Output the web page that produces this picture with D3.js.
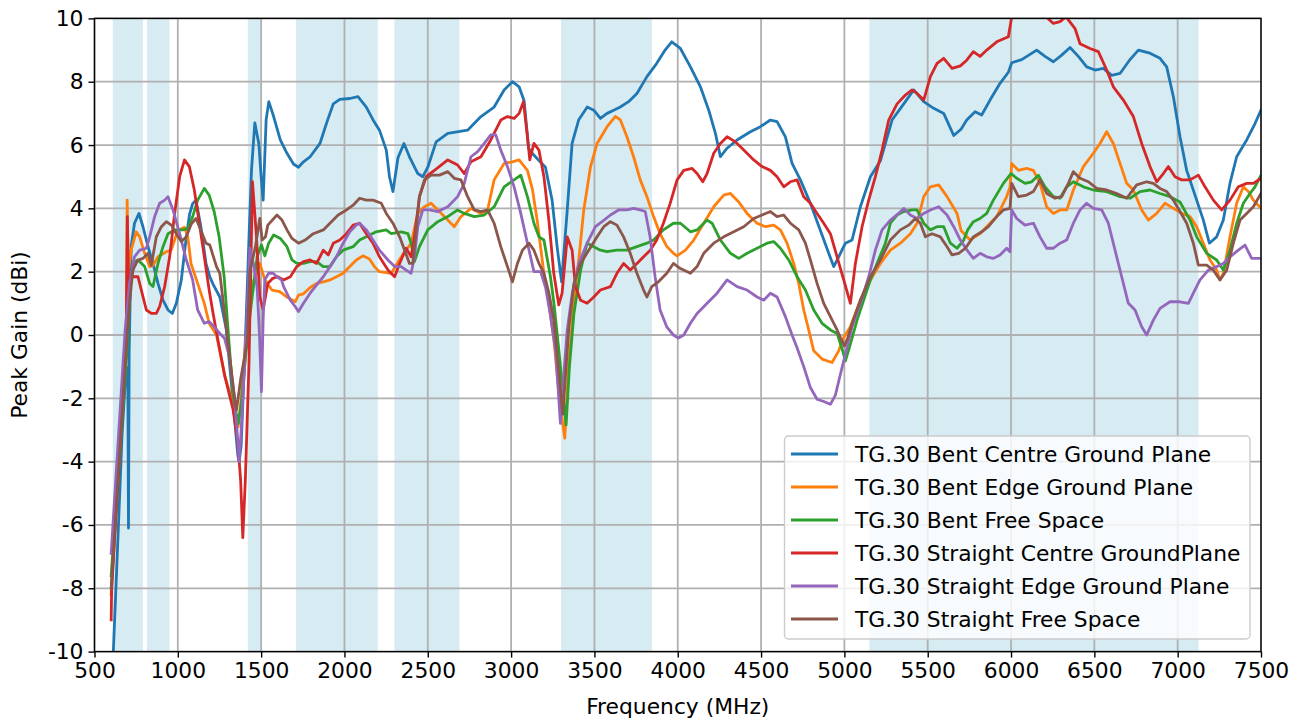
<!DOCTYPE html>
<html><head><meta charset="utf-8">
<script src="https://cdn.jsdelivr.net/npm/d3@7"></script>
<style>body{margin:0;background:#fff}svg{display:block}text{font-family:"DejaVu Sans",sans-serif}</style>
</head><body><svg id="c" width="1302" height="724"></svg>
<script>
const seriesNames = ["TG.30 Bent Centre Ground Plane","TG.30 Bent Edge Ground Plane","TG.30 Bent Free Space","TG.30 Straight Centre GroundPlane","TG.30 Straight Edge Ground Plane","TG.30 Straight Free Space"];
const seriesColors = ["#1f77b4","#ff7f0e","#2ca02c","#d62728","#9467bd","#8c564b"];
const xTicks = [500,1000,1500,2000,2500,3000,3500,4000,4500,5000,5500,6000,6500,7000,7500];
const yTicks = [-10,-8,-6,-4,-2,0,2,4,6,8,10];
const bands = [[610,790],[815,950],[1420,1505],[1710,2200],[2300,2690],[3300,3845],[5150,7125]];

const bentCentre = [[613,-10],[640,-6.5],[665,-3.2],[690,-1.0],[700,-1.4],[704,-6.1],[708,-0.5],[720,2.79],[740,3.53],[767,3.84],[791,3.42],[821,2.79],[851,2.26],[881,1.63],[911,1.1],[941,0.79],[967,0.68],[991,1.0],[1021,1.74],[1051,3.1],[1070,3.8],[1089,4.15],[1109,4.26],[1139,3.4],[1169,2.26],[1192,1.84],[1212,1.6],[1252,1.2],[1290,0.2],[1330,-2.0],[1360,-3.8],[1368,-4.0],[1380,-3.5],[1410,0.5],[1430,3.5],[1442,5.2],[1462,6.7],[1486,6.05],[1500,5.0],[1512,4.26],[1530,6.8],[1546,7.37],[1575,6.9],[1615,6.16],[1655,5.74],[1694,5.4],[1724,5.3],[1754,5.47],[1794,5.63],[1853,6.05],[1893,6.7],[1933,7.3],[1972,7.44],[2032,7.47],[2081,7.53],[2131,7.2],[2171,6.8],[2210,6.47],[2251,5.84],[2270,5.0],[2291,4.53],[2321,5.6],[2357,6.05],[2390,5.63],[2440,5.1],[2470,5.0],[2500,5.3],[2550,6.1],[2620,6.37],[2739,6.47],[2819,6.9],[2898,7.2],[2958,7.74],[3008,8.0],[3048,7.84],[3078,7.4],[3105,5.9],[3125,5.75],[3160,5.55],[3206,5.3],[3246,4.26],[3276,2.79],[3303,1.68],[3337,3.95],[3366,6.05],[3406,6.8],[3457,7.2],[3496,7.1],[3536,6.84],[3576,7.0],[3616,7.1],[3655,7.2],[3705,7.37],[3755,7.63],[3815,8.16],[3874,8.58],[3924,9.0],[3964,9.26],[4016,9.05],[4076,8.47],[4136,7.84],[4186,7.1],[4226,6.37],[4256,5.63],[4296,5.9],[4356,6.16],[4436,6.42],[4496,6.58],[4556,6.79],[4596,6.74],[4646,6.26],[4686,5.42],[4736,4.9],[4796,4.16],[4856,3.3],[4906,2.58],[4936,2.16],[4966,2.47],[5006,2.9],[5046,3.0],[5096,4.05],[5156,5.0],[5216,5.5],[5286,6.79],[5356,7.3],[5416,7.74],[5476,7.37],[5536,7.16],[5596,7.0],[5656,6.3],[5700,6.5],[5734,6.79],[5784,7.05],[5824,6.95],[5874,7.42],[5934,7.95],[5984,8.3],[6004,8.6],[6064,8.7],[6154,9.0],[6204,8.8],[6254,8.63],[6304,8.84],[6354,9.08],[6404,8.8],[6454,8.47],[6504,8.37],[6554,8.42],[6604,8.2],[6654,8.26],[6714,8.7],[6764,9.0],[6834,8.9],[6894,8.74],[6934,8.47],[6974,7.53],[7014,6.26],[7054,5.2],[7114,4.26],[7154,3.63],[7190,2.9],[7234,3.1],[7274,3.63],[7314,4.8],[7354,5.63],[7414,6.16],[7464,6.68],[7500,7.1]];

const bentEdge = [[600,-8.2],[690,-0.3],[696,4.26],[703,2.0],[720,2.68],[750,3.26],[771,3.1],[801,2.58],[831,2.16],[851,2.2],[881,2.47],[931,2.63],[960,2.68],[1000,3.3],[1040,3.4],[1060,3.1],[1079,2.26],[1119,1.63],[1159,1.0],[1188,0.37],[1232,0.0],[1282,-1.3],[1317,-1.9],[1332,-2.16],[1362,-2.9],[1380,-2.0],[1410,0.0],[1440,1.5],[1492,2.26],[1522,1.74],[1565,1.42],[1612,1.37],[1655,1.2],[1704,1.05],[1724,1.26],[1754,1.3],[1794,1.5],[1833,1.63],[1873,1.68],[1913,1.74],[1952,1.84],[1992,1.95],[2032,2.16],[2071,2.37],[2111,2.5],[2150,2.4],[2180,2.16],[2210,2.0],[2281,1.95],[2341,2.47],[2400,2.9],[2440,3.84],[2480,4.05],[2520,4.16],[2560,3.95],[2620,3.63],[2659,3.42],[2699,3.74],[2759,4.0],[2819,3.84],[2859,3.95],[2898,4.9],[2958,5.42],[3008,5.47],[3048,5.53],[3098,5.2],[3128,4.6],[3157,3.6],[3197,1.95],[3227,1.0],[3257,-0.16],[3290,-2.0],[3322,-3.26],[3345,-1.0],[3377,1.1],[3406,2.37],[3436,3.95],[3476,5.3],[3516,6.05],[3576,6.58],[3625,6.9],[3655,6.8],[3695,6.26],[3735,5.63],[3775,4.9],[3815,4.37],[3855,3.74],[3894,3.2],[3934,2.8],[3974,2.58],[3996,2.5],[4046,2.68],[4096,3.0],[4156,3.53],[4216,4.05],[4276,4.42],[4316,4.47],[4366,4.2],[4416,3.84],[4476,3.53],[4526,3.42],[4576,3.47],[4616,3.32],[4656,2.9],[4696,2.26],[4726,1.63],[4756,0.79],[4786,0.16],[4816,-0.5],[4866,-0.76],[4926,-0.87],[4966,-0.5],[4996,-0.08],[5036,0.26],[5096,1.1],[5156,1.74],[5216,2.26],[5276,2.68],[5336,2.9],[5396,3.2],[5436,3.53],[5476,4.37],[5516,4.68],[5566,4.74],[5616,4.37],[5676,3.84],[5700,3.3],[5754,3.0],[5814,3.2],[5854,3.42],[5914,3.74],[5974,4.37],[5994,4.68],[6004,5.42],[6044,5.2],[6094,5.26],[6134,5.2],[6174,4.79],[6214,4.05],[6254,3.84],[6294,3.95],[6334,3.95],[6374,4.58],[6434,5.32],[6494,5.74],[6534,6.05],[6574,6.42],[6614,6.05],[6654,5.42],[6694,4.79],[6734,4.58],[6784,3.95],[6824,3.63],[6874,3.84],[6924,4.16],[6974,4.0],[7024,3.84],[7074,3.74],[7114,3.42],[7154,2.9],[7194,2.37],[7234,2.05],[7254,1.74],[7274,1.95],[7314,3.1],[7354,4.16],[7394,4.68],[7424,4.53],[7454,4.26],[7500,4.0]];

const bentFree = [[600,-7.6],[695,-0.5],[715,1.6],[740,2.3],[761,2.37],[801,2.16],[831,1.63],[851,1.53],[881,2.26],[911,2.79],[941,3.2],[981,3.32],[1031,3.32],[1060,3.37],[1089,3.74],[1119,4.26],[1159,4.63],[1188,4.42],[1218,3.9],[1248,3.1],[1278,1.84],[1298,0.4],[1332,-1.95],[1362,-2.8],[1380,-2.2],[1422,0.16],[1460,1.8],[1476,2.47],[1502,2.85],[1522,2.5],[1545,2.9],[1575,3.16],[1615,3.05],[1655,2.79],[1685,2.37],[1714,2.26],[1754,2.26],[1794,2.32],[1833,2.32],[1873,2.16],[1913,2.16],[1952,2.47],[1992,2.68],[2052,2.79],[2091,3.0],[2131,3.1],[2190,3.26],[2250,3.32],[2281,3.2],[2341,3.26],[2381,3.2],[2400,2.9],[2420,2.32],[2450,2.79],[2500,3.32],[2560,3.58],[2620,3.74],[2679,3.95],[2719,3.84],[2779,3.74],[2839,3.79],[2898,4.05],[2958,4.68],[3018,4.9],[3058,5.05],[3098,4.37],[3137,3.53],[3167,3.1],[3197,3.0],[3217,2.4],[3236,1.84],[3257,1.0],[3287,-0.5],[3330,-2.84],[3350,-1.0],[3377,0.68],[3417,2.05],[3456,2.9],[3496,2.79],[3536,2.68],[3576,2.63],[3635,2.68],[3695,2.68],[3755,2.79],[3815,2.9],[3855,3.0],[3914,3.32],[3974,3.53],[4016,3.53],[4076,3.26],[4116,3.32],[4176,3.63],[4206,3.53],[4256,3.0],[4316,2.58],[4366,2.42],[4416,2.58],[4476,2.74],[4536,2.9],[4576,2.95],[4616,2.74],[4666,2.37],[4716,1.84],[4766,1.42],[4816,0.79],[4866,0.37],[4916,0.16],[4956,0.05],[4990,-0.5],[5006,-0.82],[5030,-0.4],[5076,0.47],[5116,1.1],[5156,1.74],[5196,2.26],[5246,2.9],[5276,3.53],[5316,3.79],[5356,3.9],[5406,3.95],[5436,3.95],[5476,3.53],[5516,3.32],[5556,3.42],[5596,3.42],[5636,2.9],[5676,2.74],[5716,3.0],[5740,3.32],[5774,3.58],[5814,3.68],[5854,3.84],[5894,4.26],[5954,4.79],[6000,5.1],[6034,4.95],[6084,4.79],[6124,4.84],[6164,5.05],[6204,4.68],[6254,4.37],[6294,4.32],[6334,4.68],[6374,4.84],[6434,4.68],[6494,4.58],[6574,4.53],[6654,4.37],[6714,4.32],[6774,4.53],[6834,4.58],[6894,4.47],[6954,4.37],[7014,4.2],[7074,3.63],[7114,3.1],[7174,2.58],[7234,2.37],[7274,2.05],[7314,2.68],[7354,3.53],[7394,4.16],[7434,4.47],[7464,4.68],[7500,5.05]];

const straightCentre = [[600,-9.0],[603,-8.0],[690,-0.2],[697,3.74],[705,1.5],[720,1.84],[761,1.84],[781,1.42],[811,0.79],[841,0.68],[871,0.68],[891,0.9],[921,1.53],[951,2.47],[981,3.84],[1011,5.0],[1040,5.53],[1069,5.32],[1099,4.58],[1129,3.53],[1159,2.47],[1188,1.42],[1208,0.79],[1235,0.0],[1282,-1.3],[1332,-2.37],[1360,-3.4],[1377,-4.6],[1390,-6.4],[1405,-4.6],[1427,-0.9],[1448,4.84],[1472,3.1],[1492,1.2],[1512,0.8],[1540,1.63],[1570,1.79],[1600,1.84],[1635,1.74],[1675,1.84],[1714,2.16],[1754,2.32],[1794,2.37],[1833,2.26],[1873,2.68],[1903,2.53],[1933,2.9],[1972,3.0],[2012,3.2],[2052,3.47],[2091,3.53],[2131,3.2],[2171,2.9],[2210,2.47],[2261,2.05],[2301,1.84],[2331,2.26],[2370,2.74],[2400,2.47],[2420,3.1],[2450,4.37],[2490,5.0],[2540,5.2],[2620,5.53],[2679,5.37],[2719,5.1],[2759,5.47],[2819,5.63],[2878,6.16],[2938,6.79],[2978,6.9],[3018,6.84],[3048,7.0],[3074,7.37],[3098,6.26],[3112,5.53],[3137,6.05],[3167,5.84],[3197,5.0],[3227,3.6],[3256,1.95],[3286,0.95],[3306,1.32],[3337,3.1],[3366,2.68],[3386,1.53],[3417,1.1],[3456,1.0],[3496,1.2],[3536,1.42],[3596,1.53],[3635,1.95],[3675,2.26],[3715,2.05],[3755,2.26],[3795,2.47],[3835,2.68],[3874,3.0],[3914,3.53],[3954,4.15],[3996,4.9],[4036,5.2],[4086,5.26],[4116,5.1],[4150,4.84],[4176,5.1],[4216,5.74],[4256,6.05],[4296,6.26],[4346,6.1],[4396,5.84],[4456,5.53],[4506,5.32],[4556,5.2],[4596,5.0],[4636,4.68],[4676,4.84],[4716,4.9],[4756,4.37],[4796,4.16],[4836,3.84],[4876,3.53],[4916,3.2],[4956,2.47],[4996,1.74],[5036,1.0],[5066,2.26],[5106,3.42],[5146,4.26],[5186,5.0],[5226,5.84],[5266,6.79],[5316,7.3],[5366,7.58],[5406,7.74],[5436,7.63],[5476,7.42],[5516,8.16],[5556,8.58],[5596,8.74],[5646,8.42],[5696,8.5],[5734,8.68],[5774,8.95],[5814,8.8],[5854,9.0],[5914,9.26],[5984,9.42],[6004,10.05],[6040,10.1],[6100,10.15],[6160,10.05],[6200,10.1],[6254,9.84],[6294,9.9],[6330,10.05],[6384,9.68],[6414,9.2],[6474,9.05],[6524,8.95],[6574,8.37],[6614,7.84],[6674,7.42],[6734,6.9],[6784,6.05],[6834,5.32],[6874,4.84],[6914,5.1],[6944,5.32],[6984,5.0],[7024,4.9],[7074,4.9],[7124,5.05],[7164,4.68],[7214,4.26],[7264,3.95],[7314,4.26],[7364,4.68],[7414,4.79],[7454,4.79],[7500,4.95]];

const straightEdge = [[600,-6.9],[683,0.1],[710,1.63],[740,2.47],[771,2.68],[811,2.74],[831,3.1],[861,3.74],[891,4.16],[921,4.26],[941,4.37],[971,3.95],[1011,3.2],[1051,2.37],[1089,1.74],[1119,0.79],[1159,0.37],[1188,0.42],[1218,0.26],[1252,0.05],[1280,-0.1],[1310,-0.7],[1340,-2.0],[1355,-3.0],[1368,-4.0],[1380,-3.0],[1410,0.0],[1432,2.74],[1456,2.2],[1476,1.5],[1490,0.0],[1502,-1.79],[1512,0.5],[1522,1.74],[1545,1.95],[1572,1.95],[1595,1.84],[1622,1.74],[1635,1.53],[1675,1.1],[1704,0.9],[1724,0.74],[1754,1.0],[1794,1.32],[1833,1.58],[1873,1.84],[1913,2.16],[1952,2.47],[1992,2.9],[2032,3.26],[2071,3.47],[2091,3.53],[2131,3.32],[2171,3.0],[2210,2.68],[2261,2.37],[2301,2.16],[2341,2.16],[2370,2.05],[2400,1.95],[2420,2.47],[2440,3.42],[2470,3.95],[2510,3.95],[2560,3.9],[2620,4.05],[2679,4.37],[2719,4.79],[2759,5.63],[2799,5.79],[2839,6.05],[2878,6.32],[2908,6.32],[2938,5.84],[2978,5.32],[3018,4.68],[3058,3.84],[3098,2.9],[3137,2.0],[3177,2.0],[3207,1.5],[3237,0.58],[3267,-0.5],[3296,-2.79],[3320,-1.0],[3337,0.16],[3367,1.32],[3406,2.26],[3456,2.9],[3506,3.42],[3546,3.58],[3596,3.79],[3645,3.95],[3695,3.95],[3735,4.0],[3775,3.95],[3805,3.9],[3834,3.1],[3864,1.84],[3894,0.79],[3934,0.26],[3974,0.0],[4004,-0.1],[4036,0.0],[4076,0.37],[4116,0.68],[4176,1.0],[4236,1.32],[4296,1.74],[4356,1.53],[4416,1.42],[4476,1.2],[4516,1.1],[4556,1.32],[4596,1.2],[4646,0.58],[4686,0.0],[4716,-0.4],[4756,-1.0],[4796,-1.66],[4836,-2.03],[4876,-2.1],[4916,-2.19],[4946,-1.9],[4976,-1.24],[5006,-0.6],[5046,0.26],[5096,1.0],[5146,1.84],[5186,2.68],[5226,3.32],[5276,3.63],[5326,3.84],[5356,4.0],[5396,3.79],[5436,3.68],[5476,3.84],[5516,3.95],[5566,4.05],[5616,3.79],[5656,3.42],[5696,3.0],[5736,2.68],[5774,2.42],[5814,2.58],[5854,2.47],[5894,2.42],[5934,2.53],[5974,2.74],[5994,2.63],[6004,3.95],[6034,3.68],[6084,3.47],[6134,3.53],[6174,3.1],[6214,2.74],[6254,2.74],[6294,2.9],[6334,3.0],[6374,3.53],[6414,3.95],[6454,4.16],[6494,4.0],[6544,3.95],[6584,3.53],[6624,2.68],[6664,1.84],[6704,1.0],[6744,0.79],[6784,0.26],[6814,0.0],[6854,0.47],[6894,0.84],[6954,1.05],[7014,1.05],[7064,1.0],[7094,1.32],[7134,1.74],[7184,2.05],[7234,2.16],[7274,2.26],[7314,2.47],[7364,2.68],[7404,2.84],[7444,2.42],[7500,2.42]];

const straightFree = [[600,-8.0],[690,-0.5],[710,1.0],[730,2.05],[761,2.37],[791,2.42],[821,2.58],[841,2.2],[871,3.1],[901,3.42],[931,3.58],[961,3.47],[991,3.2],[1021,2.95],[1051,3.1],[1080,3.5],[1109,3.68],[1139,3.3],[1169,2.9],[1192,2.84],[1232,2.16],[1252,1.95],[1292,0.16],[1342,-2.05],[1352,-2.37],[1377,-1.4],[1417,-0.2],[1432,2.0],[1466,2.8],[1492,3.68],[1506,3.0],[1526,3.1],[1540,3.47],[1595,3.79],[1625,3.63],[1655,3.32],[1685,3.05],[1724,2.9],[1764,3.0],[1813,3.2],[1873,3.32],[1913,3.53],[1962,3.79],[2012,3.95],[2052,4.1],[2091,4.32],[2131,4.26],[2171,4.26],[2221,4.16],[2251,3.84],[2291,3.53],[2331,3.1],[2361,2.68],[2390,2.26],[2410,2.26],[2430,3.32],[2450,4.37],[2480,4.9],[2520,5.05],[2570,5.05],[2620,5.16],[2659,4.95],[2699,4.9],[2739,4.37],[2779,3.95],[2819,3.9],[2859,3.95],[2898,3.53],[2938,2.79],[2978,2.16],[3008,1.68],[3038,2.26],[3068,2.68],[3108,2.9],[3137,2.68],[3167,2.26],[3197,1.95],[3227,1.32],[3257,0.47],[3310,-2.5],[3347,0.26],[3377,1.63],[3417,2.26],[3466,2.68],[3516,3.1],[3556,3.42],[3596,3.58],[3635,3.47],[3675,3.1],[3715,2.58],[3755,1.95],[3795,1.42],[3815,1.2],[3844,1.53],[3884,1.68],[3934,1.95],[3974,2.26],[4016,2.1],[4076,1.95],[4116,2.16],[4156,2.58],[4216,2.9],[4276,3.1],[4336,3.26],[4396,3.42],[4456,3.68],[4506,3.79],[4556,3.9],[4596,3.74],[4636,3.79],[4676,3.53],[4726,3.32],[4766,2.9],[4796,2.37],[4836,1.63],[4876,1.0],[4916,0.58],[4956,0.16],[4976,-0.08],[5000,-0.35],[5020,-0.1],[5046,0.37],[5096,1.1],[5156,1.84],[5216,2.37],[5276,3.0],[5336,3.32],[5386,3.47],[5426,3.68],[5456,3.53],[5486,3.1],[5526,3.2],[5576,3.1],[5616,2.79],[5646,2.53],[5686,2.58],[5726,2.74],[5774,3.1],[5824,3.26],[5864,3.42],[5914,3.74],[5954,3.95],[5994,4.0],[6004,4.79],[6044,4.37],[6094,4.42],[6134,4.53],[6174,4.9],[6214,4.47],[6264,4.32],[6304,4.37],[6344,4.79],[6374,5.16],[6414,4.95],[6464,4.84],[6514,4.63],[6574,4.58],[6634,4.47],[6694,4.32],[6754,4.74],[6814,4.84],[6854,4.79],[6894,4.63],[6934,4.53],[6974,4.26],[7014,3.9],[7054,3.53],[7094,2.9],[7124,2.21],[7174,2.21],[7214,2.05],[7254,1.74],[7294,2.05],[7334,2.9],[7374,3.63],[7414,3.84],[7454,4.05],[7500,4.47]];

const allSeries = [bentCentre, bentEdge, bentFree, straightCentre, straightEdge, straightFree];

const FS = 21.8;
const svg = d3.select("#c");
const L = 94.5, R = 1261, T = 18.4, B = 651.6;
const x = d3.scaleLinear().domain([500,7500]).range([L,R]);
const y = d3.scaleLinear().domain([-10,10]).range([B,T]);

svg.append("defs").append("clipPath").attr("id","clip").append("rect")
  .attr("x",L).attr("y",T).attr("width",R-L).attr("height",B-T);

// shaded bands
svg.append("g").selectAll("rect").data(bands).join("rect")
  .attr("x",d=>x(d[0])).attr("width",d=>x(d[1])-x(d[0]))
  .attr("y",T).attr("height",B-T)
  .attr("fill","#add8e6").attr("fill-opacity",0.5);

// grid
const grid = svg.append("g").attr("stroke","#b0b0b0").attr("stroke-width",1.8);
grid.selectAll("line.v").data(xTicks).join("line").attr("class","v")
  .attr("x1",d=>x(d)).attr("x2",d=>x(d)).attr("y1",T).attr("y2",B);
grid.selectAll("line.h").data(yTicks).join("line").attr("class","h")
  .attr("y1",d=>y(d)).attr("y2",d=>y(d)).attr("x1",L).attr("x2",R);

// lines
const line = d3.line().x(d=>x(d[0])).y(d=>y(d[1]));
const lg = svg.append("g").attr("clip-path","url(#clip)");
allSeries.forEach((s,i)=>{
  lg.append("path").datum(s).attr("d",line)
    .attr("fill","none").attr("stroke",seriesColors[i]).attr("stroke-width",2.8)
    .attr("stroke-linejoin","round").attr("stroke-linecap","square");
});

// axes
const xa = svg.append("g").attr("transform",`translate(0,${B})`)
  .call(d3.axisBottom(x).tickValues(xTicks).tickFormat(d3.format("d")).tickSizeOuter(0).tickSize(6).tickPadding(5));
const ya = svg.append("g").attr("transform",`translate(${L},0)`)
  .call(d3.axisLeft(y).tickValues(yTicks).tickFormat(d=>String(d)).tickSizeOuter(0).tickSize(6).tickPadding(5));
[xa,ya].forEach(a=>{
  a.selectAll("text").attr("font-size",FS).attr("fill","#000").attr("font-family","DejaVu Sans");
  a.selectAll("line").attr("stroke","#000").attr("stroke-width",1.4);
  a.select(".domain").remove();
});
// frame
svg.append("rect").attr("x",L).attr("y",T).attr("width",R-L).attr("height",B-T)
  .attr("fill","none").attr("stroke","#000").attr("stroke-width",1.4);

// axis labels
svg.append("text").attr("x",(L+R)/2).attr("y",714).attr("text-anchor","middle")
  .attr("font-size",FS).text("Frequency (MHz)");
svg.append("text").attr("transform",`translate(27,${(T+B)/2}) rotate(-90)`).attr("text-anchor","middle")
  .attr("font-size",FS).text("Peak Gain (dBi)");

// legend
const leg = svg.append("g");
leg.append("rect").attr("x",784.5).attr("y",436).attr("width",465.5).attr("height",203).attr("rx",4)
  .attr("fill","#fff").attr("fill-opacity",0.8).attr("stroke","#cccccc").attr("stroke-width",1.4);
seriesNames.forEach((n,i)=>{
  const cy = 454 + i*33;
  leg.append("line").attr("x1",791).attr("x2",838).attr("y1",cy).attr("y2",cy)
    .attr("stroke",seriesColors[i]).attr("stroke-width",2.8);
  leg.append("text").attr("x",855).attr("y",cy).attr("dy","0.36em").attr("font-size",FS).attr("fill","#000").text(n);
});
</script></body></html>
